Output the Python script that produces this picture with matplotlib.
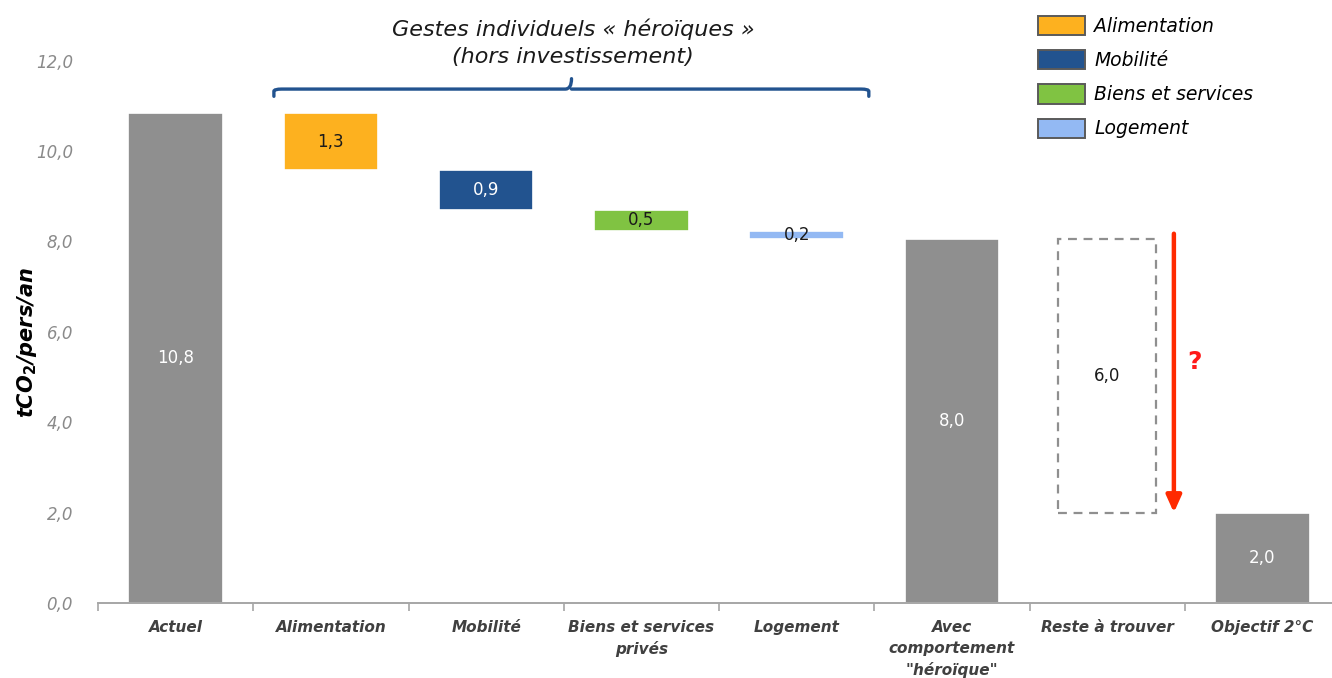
import matplotlib
matplotlib.use("Agg")
import matplotlib.pyplot as plt
from matplotlib.patches import Patch
from matplotlib.path import Path
from matplotlib.patches import PathPatch

# --- data ---
categories = ["Actuel", "Alimentation", "Mobilité", "Biens et services\nprivés",
              "Logement", "Avec\ncomportement\n\"héroïque\"", "Reste à trouver",
              "Objectif 2°C"]
actuel = 10.85
gestes = ["Alimentation", "Mobilité", "Biens et services", "Logement"]
reductions = [1.28, 0.87, 0.47, 0.18]
reduction_labels = ["1,3", "0,9", "0,5", "0,2"]
avec = 8.05
objectif = 2.0
total_labels = ["10,8", "8,0", "6,0", "2,0"]
yticks = [0, 2, 4, 6, 8, 10, 12]

gray = "#8f8f8f"
geste_colors = ["#fdb11f", "#22538f", "#80c342", "#93b9f3"]
geste_text = ["#1a1a1a", "white", "#1a1a1a", "#1a1a1a"]

plt.rcParams["font.family"] = ["DejaVu Sans"]

fig = plt.figure(figsize=(13.32, 6.78), dpi=100)
ax = fig.add_axes([98 / 1332, 75 / 678, 1242 / 1332, 542.4 / 678])

w = 0.61
edge = dict(edgecolor="white", linewidth=1.2)

# Actuel
ax.bar(0, actuel, width=w, color=gray, **edge)
ax.text(0, actuel / 2, total_labels[0], ha="center", va="center", color="white", fontsize=12)

# waterfall steps
top = actuel
for i, (r, c, lab, tc) in enumerate(zip(reductions, geste_colors, reduction_labels, geste_text)):
    ax.bar(i + 1, r, bottom=top - r, width=w, color=c, **edge)
    ax.text(i + 1, top - r / 2, lab, ha="center", va="center", color=tc, fontsize=12)
    top -= r

# avec comportement heroique
ax.bar(5, avec, width=w, color=gray, **edge)
ax.text(5, avec / 2, total_labels[1], ha="center", va="center", color="white", fontsize=12)

# reste a trouver (dashed box)
ax.bar(6, avec - objectif, bottom=objectif, width=w + 0.02, fill=False,
       edgecolor=gray, linewidth=1.6, linestyle=(0, (4, 3)))
ax.text(6, (avec + objectif) / 2, total_labels[2], ha="center", va="center",
        color="#1a1a1a", fontsize=12)
ax.annotate("", xy=(6.43, objectif), xytext=(6.43, avec + 0.12),
            arrowprops=dict(arrowstyle="-|>,head_width=0.45,head_length=1.0",
                            color="#ff2a00", lw=3.2, shrinkA=0, shrinkB=0))
ax.text(6.56, 5.33, "?", color="#ff1a1a", fontsize=18, fontweight="bold",
        ha="center", va="center")

# objectif
ax.bar(7, objectif, width=w, color=gray, **edge)
ax.text(7, objectif / 2, total_labels[3], ha="center", va="center", color="white", fontsize=12)

# bracket over the gestes
bx0, bx1, bxm = 0.633, 4.465, 2.55
by, bend, bpeak = 11.37, 11.21, 11.6
verts = [(bx0, bend), (bx0, by - 0.05), (bx0, by), (bx0 + 0.05, by),
         (bxm - 0.04, by), (bxm, by), (bxm, bpeak),
         (bxm, by), (bxm + 0.04, by),
         (bx1 - 0.05, by), (bx1, by), (bx1, by - 0.05), (bx1, bend)]
codes = [Path.MOVETO, Path.LINETO, Path.CURVE3, Path.CURVE3,
         Path.LINETO, Path.CURVE3, Path.LINETO,
         Path.MOVETO, Path.LINETO,
         Path.LINETO, Path.CURVE3, Path.CURVE3, Path.LINETO]
ax.add_patch(PathPatch(Path(verts, codes), fill=False, edgecolor="#22538f",
                       linewidth=2.4, clip_on=False, capstyle="round"))

fig.text(573 / 1332, 1 - 43 / 678, "Gestes individuels « héroïques »\n(hors investissement)",
         ha="center", va="center", fontsize=16, style="italic", color="#1a1a1a",
         linespacing=1.45)

# axes styling
ax.set_xlim(-0.5, 7.5)
ax.set_ylim(0, 12)
ax.set_yticks(yticks)
ax.set_yticklabels([f"{v:.1f}".replace(".", ",") for v in yticks],
                   fontsize=12, style="italic", color="#8a8a8a")
ax.tick_params(axis="y", length=0, pad=18)
ax.set_xticks(range(len(categories)))
ax.set_xticklabels(categories, fontsize=11, fontweight="bold", style="italic",
                   color="#404040", linespacing=1.5)
ax.set_xticks([i - 0.5 for i in range(len(categories) + 1)], minor=True)
ax.tick_params(axis="x", which="major", length=0, pad=12)
ax.tick_params(axis="x", which="minor", length=6, width=1.2, color="#a6a6a6")
for s in ["top", "right", "left"]:
    ax.spines[s].set_visible(False)
ax.spines["bottom"].set_color("#a6a6a6")
ax.spines["bottom"].set_linewidth(1.4)

ax.set_ylabel(r"tCO$_\mathbf{2}$/pers/an", fontsize=15, fontweight="bold",
              style="italic", color="black")
ax.yaxis.set_label_coords(-59 / 1242, 0.48)

handles = [Patch(facecolor=c, edgecolor="#5a5a5a", linewidth=1.4) for c in geste_colors]
fig.legend(handles, gestes, loc="upper left", bbox_to_anchor=(1038 / 1332, 1 - 16 / 678),
           frameon=False, prop={"style": "italic", "size": 13.5},
           handlelength=2.5, handleheight=1.2, handletextpad=0.5,
           labelspacing=0.76, borderpad=0, borderaxespad=0)

fig.savefig("out.png", dpi=100)
